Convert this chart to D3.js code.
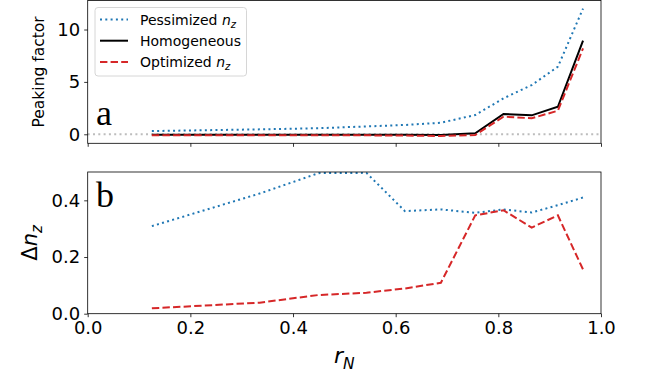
<!DOCTYPE html>
<html>
<head>
<meta charset="utf-8">
<script src="https://cdn.jsdelivr.net/npm/d3@7"></script>
<style>
  body { margin: 0; background: #fff; }
  text { font-family: "DejaVu Sans", sans-serif; fill: #000; }
</style>
</head>
<body>
<div id="plot"></div>
<script>
// data
const rN = [0.125, 0.335, 0.45, 0.543, 0.618, 0.688, 0.755, 0.81, 0.865, 0.916, 0.965];
const peakPess = [0.31, 0.47, 0.58, 0.75, 0.89, 1.1, 1.84, 3.43, 4.7, 6.45, 12.0];
const peakHomo = [-0.05, -0.05, -0.05, -0.05, -0.05, -0.07, 0.1, 1.94, 1.81, 2.63, 8.93];
const peakOpt = [-0.1, -0.1, -0.1, -0.1, -0.12, -0.16, -0.07, 1.68, 1.53, 2.25, 8.2];
const dnPess = [0.309, 0.424, 0.496, 0.497, 0.362, 0.368, 0.356, 0.368, 0.357, 0.383, 0.41];
const dnOpt = [0.019, 0.039, 0.066, 0.074, 0.089, 0.109, 0.347, 0.365, 0.304, 0.347, 0.156];
const xTicks = [0, 0.2, 0.4, 0.6, 0.8, 1.0];
const topTicks = [0, 5, 10];
const botTicks = [0, 0.2, 0.4];

const width = 649, height = 377;
const left = 87.7, right = 601;
const topA = {y0: 0.5, y1: 143.3};
const botA = {y0: 172, y1: 313.7};

const blue = "#1f77b4", red = "#d62728";

const svg = d3.select("#plot").append("svg")
    .attr("width", width).attr("height", height);

const x = d3.scaleLinear().domain([0, 1]).range([left, right]);
const yTop = d3.scaleLinear().domain([-0.86, 12.77]).range([topA.y1, topA.y0]);
const yBot = d3.scaleLinear().domain([0, 0.5]).range([botA.y1, botA.y0]);

// clip paths
const defs = svg.append("defs");
[["clipTop", topA], ["clipBot", botA]].forEach(([id, a]) => {
  defs.append("clipPath").attr("id", id)
    .append("rect").attr("x", left).attr("y", a.y0)
    .attr("width", right - left).attr("height", a.y1 - a.y0);
});

function series(g, ys, yScale, color, dash) {
  const line = d3.line().x((d, i) => x(rN[i])).y(d => yScale(d));
  g.append("path").datum(ys)
    .attr("d", line)
    .attr("fill", "none")
    .attr("stroke", color)
    .attr("stroke-width", 2)
    .attr("stroke-dasharray", dash);
}

// ---- panel a
const gTop = svg.append("g").attr("clip-path", "url(#clipTop)");
gTop.append("line")
  .attr("x1", left).attr("x2", right)
  .attr("y1", yTop(0)).attr("y2", yTop(0))
  .attr("stroke", "#bdbdbd").attr("stroke-width", 2)
  .attr("stroke-dasharray", "2,3.3");
series(gTop, peakPess, yTop, blue, "2,3.3");
series(gTop, peakHomo, yTop, "#000", null);
series(gTop, peakOpt, yTop, red, "7.4,3.2");

// ---- panel b
const gBot = svg.append("g").attr("clip-path", "url(#clipBot)");
series(gBot, dnPess, yBot, blue, "2,3.3");
series(gBot, dnOpt, yBot, red, "7.4,3.2");

// axes
function frame(a) {
  svg.append("rect").attr("x", left).attr("y", a.y0)
    .attr("width", right - left).attr("height", a.y1 - a.y0)
    .attr("fill", "none").attr("stroke", "#000").attr("stroke-width", 0.8);
}
frame(topA);
frame(botA);

const axTopX = svg.append("g").attr("transform", `translate(0,${topA.y1})`)
  .call(d3.axisBottom(x).tickValues(xTicks).tickSize(3.5).tickFormat(""));
const axBotX = svg.append("g").attr("transform", `translate(0,${botA.y1})`)
  .call(d3.axisBottom(x).tickValues(xTicks).tickSize(3.5).tickPadding(4).tickFormat(d3.format(".1f")));
const axTopY = svg.append("g").attr("transform", `translate(${left},0)`)
  .call(d3.axisLeft(yTop).tickValues(topTicks).tickSize(3.5).tickPadding(4).tickFormat(d3.format("d")));
const axBotY = svg.append("g").attr("transform", `translate(${left},0)`)
  .call(d3.axisLeft(yBot).tickValues(botTicks).tickSize(3.5).tickPadding(4).tickFormat(d3.format(".1f")));

[axTopX, axBotX, axTopY, axBotY].forEach(ax => {
  ax.select(".domain").remove();
  ax.selectAll(".tick line").attr("stroke", "#000").attr("stroke-width", 0.8);
  ax.selectAll(".tick text").attr("font-size", 18).attr("fill", "#000")
    .style("font-family", "DejaVu Sans, sans-serif");
});

// axis labels
svg.append("text")
  .attr("transform", `translate(44,${(topA.y0 + topA.y1) / 2}) rotate(-90)`)
  .attr("text-anchor", "middle").attr("font-size", 15.5)
  .text("Peaking factor");

const dl = svg.append("text")
  .attr("transform", `translate(37,${(botA.y0 + botA.y1) / 2}) rotate(-90)`)
  .attr("text-anchor", "middle").attr("font-size", 21);
dl.append("tspan").text("Δ");
dl.append("tspan").attr("font-style", "italic").text("n");
dl.append("tspan").attr("font-style", "italic").attr("font-size", 15).attr("dy", 5).text("z");

const xl = svg.append("text")
  .attr("x", (left + right) / 2).attr("y", 363)
  .attr("text-anchor", "middle").attr("font-size", 22);
xl.append("tspan").attr("font-style", "italic").text("r");
xl.append("tspan").attr("font-style", "italic").attr("font-size", 15.5).attr("dy", 6).text("N");

// panel letters
svg.append("text").attr("x", 96).attr("y", 125)
  .style("font-family", "Liberation Serif, serif").attr("font-size", 36).text("a");
svg.append("text").attr("x", 96).attr("y", 206.5)
  .style("font-family", "Liberation Serif, serif").attr("font-size", 36).text("b");

// legend
const legend = svg.append("g");
legend.append("rect")
  .attr("x", 95).attr("y", 7.5).attr("width", 151.5).attr("height", 68.5)
  .attr("rx", 3).attr("fill", "#fff").attr("fill-opacity", 0.8)
  .attr("stroke", "#ccc").attr("stroke-width", 0.8);

const items = [
  {name: "Pessimized ", sub: true, color: blue, dash: "2,3.3"},
  {name: "Homogeneous", sub: false, color: "#000", dash: null},
  {name: "Optimized ", sub: true, color: red, dash: "7.4,3.2"}
];
items.forEach((it, i) => {
  const yy = 19.5 + i * 21.2;
  legend.append("line")
    .attr("x1", 100).attr("x2", 128).attr("y1", yy).attr("y2", yy)
    .attr("stroke", it.color).attr("stroke-width", 2)
    .attr("stroke-dasharray", it.dash);
  const t = legend.append("text").attr("x", 140).attr("y", yy + 5)
    .attr("font-size", 14).text(it.name);
  if (it.sub) {
    t.append("tspan").attr("font-style", "italic").text("n");
    t.append("tspan").attr("font-style", "italic").attr("font-size", 10).attr("dy", 3).text("z");
  }
});
</script>
</body>
</html>
